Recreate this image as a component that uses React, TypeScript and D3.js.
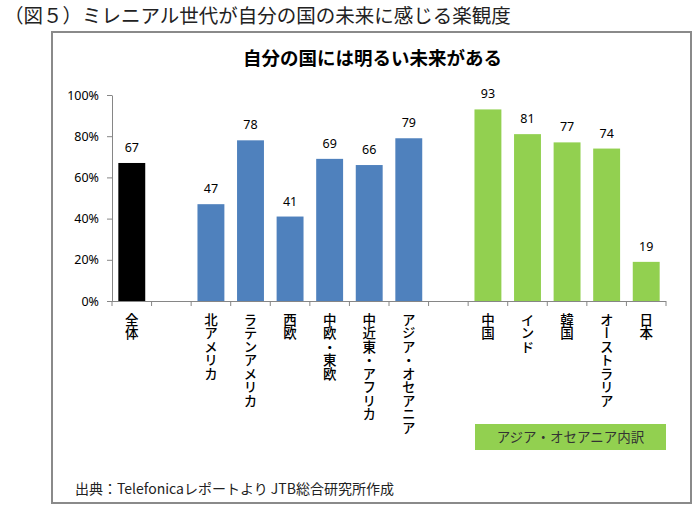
import React, { useEffect, useRef } from 'react';
import * as d3 from 'd3';

// 14 slots: overall, gap, 6 regions, gap, 5 Asia-Oceania countries
const categories = ['全体', '', '北アメリカ', 'ラテンアメリカ', '西欧', '中欧・東欧', '中近東・アフリカ', 'アジア・オセアニア', ' ', '中国', 'インド', '韓国', 'オーストラリア', '日本'];
const values = [67, null, 47, 78, 41, 69, 66, 79, null, 93, 81, 77, 74, 19];
const groups = ['all', null, 'region', 'region', 'region', 'region', 'region', 'region', null, 'asia', 'asia', 'asia', 'asia', 'asia'];
const yTicks = [0, 0.2, 0.4, 0.6, 0.8, 1];

const colors: Record<string, string> = { all: '#000000', region: '#4f81bd', asia: '#92d050' };

const W = 696;
const H = 515;
const plot = { left: 112, right: 666, top: 95, bottom: 301 };
const cjk = '"Noto Sans CJK JP", "Noto Sans", sans-serif';
const num = '"Noto Sans", "Liberation Sans", sans-serif';

export default function App() {
    const yAxisRef = useRef<SVGGElement>(null);

    const idx = d3.range(categories.length);
    const x = d3.scaleBand<number>()
        .domain(idx)
        .range([plot.left, plot.right])
        .paddingInner(0.32)
        .paddingOuter(0.16);
    const step = x.step();
    const y = d3.scaleLinear()
        .domain([0, 1])
        .range([plot.bottom, plot.top]);

    useEffect(() => {
        const g = d3.select(yAxisRef.current);
        g.selectAll('*').remove();
        g.call(d3.axisLeft(y).tickValues(yTicks).tickFormat(d3.format('.0%')).tickSize(5).tickSizeOuter(0) as any);
        g.select('.domain').attr('stroke', '#868686');
        g.selectAll('.tick line').attr('stroke', '#868686');
        g.selectAll('.tick text')
            .attr('font-family', num)
            .attr('font-size', 12.5)
            .attr('fill', '#000')
            .attr('x', -13);
    }, []);

    // slot boundaries for the category axis ticks
    const bounds = d3.range(categories.length + 1).map(i => plot.left + i * step);

    return (
        <svg width={W} height={H} style={{ position: 'absolute', left: 0, top: 0, background: '#fff' }}>
            <rect x={0} y={0} width={W} height={H} fill="#fff" />
            <text x={4} y={23} fontFamily={cjk} fontSize={19.5} fill="#222">（図５）ミレニアル世代が自分の国の未来に感じる楽観度</text>

            {/* chart frame */}
            <rect x={52} y={32} width={639} height={471} fill="none" stroke="#8a8a8a" strokeWidth={2} />

            <text x={372.5} y={64.5} textAnchor="middle" fontFamily={cjk} fontSize={18.5} fontWeight={700} fill="#000">自分の国には明るい未来がある</text>

            {idx.map(i => values[i] == null ? null : (
                <g key={i}>
                    <rect
                        x={x(i)}
                        y={y(values[i]! / 100)}
                        width={x.bandwidth()}
                        height={plot.bottom - y(values[i]! / 100)}
                        fill={colors[groups[i]!]}
                    />
                    <text
                        x={x(i)! + x.bandwidth() / 2}
                        y={y(values[i]! / 100) - 11}
                        textAnchor="middle"
                        fontFamily={num}
                        fontSize={12.5}
                        fill="#000"
                    >{values[i]}</text>
                </g>
            ))}

            <g ref={yAxisRef} transform={`translate(${plot.left},0)`} />

            {/* category axis */}
            <line x1={plot.left} x2={plot.right} y1={plot.bottom + 0.5} y2={plot.bottom + 0.5} stroke="#868686" />
            {bounds.map((b, i) => (
                <line key={i} x1={b} x2={b} y1={plot.bottom} y2={plot.bottom + 5} stroke="#868686" />
            ))}
            {idx.map(i => categories[i].trim() === '' ? null : (
                <text
                    key={i}
                    x={x(i)! + x.bandwidth() / 2}
                    y={plot.bottom + 12}
                    style={{ writingMode: 'vertical-rl' } as any}
                    fontFamily={cjk}
                    fontSize={13.5}
                    fontWeight={500}
                    fill="#000"
                >{categories[i]}</text>
            ))}

            {/* Asia-Oceania breakdown tag */}
            <rect x={475} y={424} width={191} height={26} fill="#92d050" />
            <text x={570.5} y={442} textAnchor="middle" fontFamily={cjk} fontSize={13.5} fill="#333">アジア・オセアニア内訳</text>

            <text x={75} y={494} fontFamily={cjk} fontSize={14} fill="#222">出典：Telefonicaレポートより JTB総合研究所作成</text>
        </svg>
    );
}
